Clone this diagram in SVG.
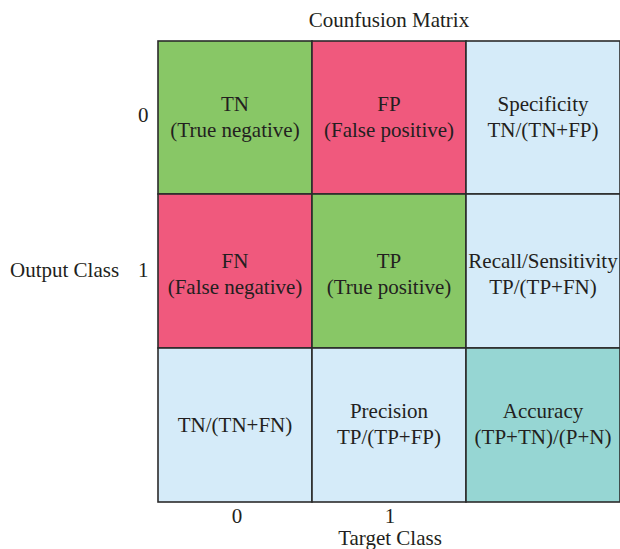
<svg xmlns="http://www.w3.org/2000/svg" width="620" height="549" viewBox="0 0 620 549">
<style>
text{font-family:"Liberation Serif","Times New Roman",serif;font-size:21px;fill:#231f20}
.c{text-anchor:middle}
.cell{stroke:#2b2b2b;stroke-width:1.6}
.g{fill:#88c766}.p{fill:#f0597d}.b{fill:#d5ebf9}.t{fill:#96d6d3}
</style>
<rect width="620" height="549" fill="#ffffff"/>
<text class="c" x="389" y="27">Counfusion Matrix</text>
<g id="cell-tn"><rect class="cell g" x="158" y="41" width="154" height="153"/><text class="c" x="235" y="111">TN</text><text class="c" x="235" y="137">(True negative)</text></g>
<g id="cell-fp"><rect class="cell p" x="312" y="41" width="154" height="153"/><text class="c" x="389" y="111">FP</text><text class="c" x="389" y="137">(False positive)</text></g>
<g id="cell-spec"><rect class="cell b" x="466" y="41" width="154" height="153"/><text class="c" x="543" y="111">Specificity</text><text class="c" x="543" y="137">TN/(TN+FP)</text></g>
<g id="cell-fn"><rect class="cell p" x="158" y="194" width="154" height="154"/><text class="c" x="235" y="268">FN</text><text class="c" x="235" y="294">(False negative)</text></g>
<g id="cell-tp"><rect class="cell g" x="312" y="194" width="154" height="154"/><text class="c" x="389" y="268">TP</text><text class="c" x="389" y="294">(True positive)</text></g>
<g id="cell-recall"><rect class="cell b" x="466" y="194" width="154" height="154"/><text class="c" x="543" y="268">Recall/Sensitivity</text><text class="c" x="543" y="294">TP/(TP+FN)</text></g>
<g id="cell-npv"><rect class="cell b" x="158" y="348" width="154" height="154"/><text class="c" x="235" y="432">TN/(TN+FN)</text></g>
<g id="cell-prec"><rect class="cell b" x="312" y="348" width="154" height="154"/><text class="c" x="389" y="418">Precision</text><text class="c" x="389" y="444">TP/(TP+FP)</text></g>
<g id="cell-acc"><rect class="cell t" x="466" y="348" width="154" height="154"/><text class="c" x="543" y="418">Accuracy</text><text class="c" x="543" y="444">(TP+TN)/(P+N)</text></g>
<g id="labels">
<text x="138" y="122">0</text>
<text x="10" y="277">Output Class</text>
<text x="138" y="277">1</text>
<text class="c" x="237" y="523">0</text>
<text class="c" x="390" y="523">1</text>
<text class="c" x="390" y="545">Target Class</text>
</g>
<g id="connectors"/>
</svg>
